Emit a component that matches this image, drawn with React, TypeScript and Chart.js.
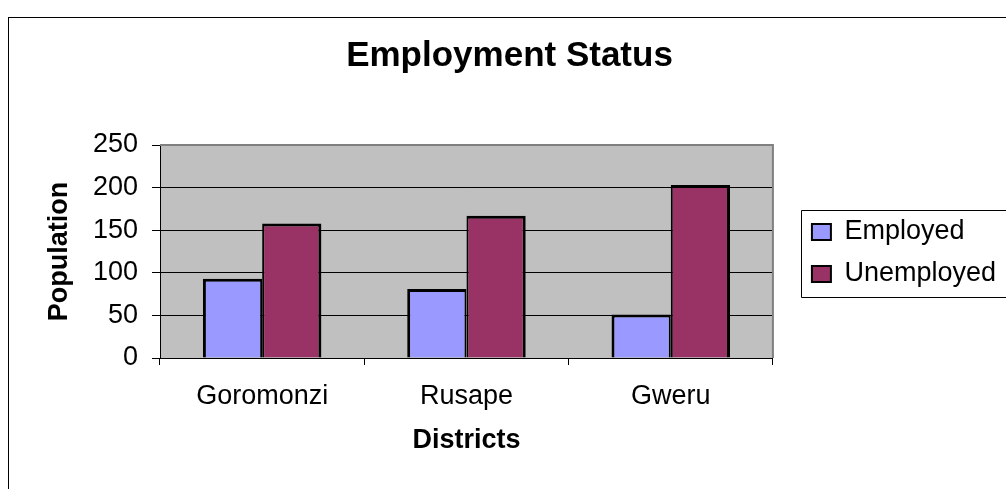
import { useEffect, useRef } from "react";
import { Chart, registerables } from "chart.js";

Chart.register(...registerables);

const categories = ["Goromonzi", "Rusape", "Gweru"];
const seriesNames = ["Employed", "Unemployed"];
const employed = [93, 81, 51];
const unemployed = [158, 167, 203];
const yTickValues = [0, 50, 100, 150, 200, 250];

const FONT = "'Liberation Sans', Arial, Helvetica, sans-serif";

export default function App() {
  const ref = useRef<HTMLCanvasElement>(null);

  useEffect(() => {
    if (!ref.current) return;

    const decorations = {
      id: "decorations",
      beforeDraw(chart: any) {
        const { ctx, chartArea: a } = chart;
        ctx.save();
        ctx.fillStyle = "#ffffff";
        ctx.fillRect(0, 0, chart.width, chart.height);
        ctx.strokeStyle = "#000000";
        ctx.lineWidth = 1;
        ctx.strokeRect(8.5, 17.5, chart.width + 40, chart.height + 40);
        ctx.fillStyle = "#c0c0c0";
        ctx.fillRect(a.left, a.top, a.right - a.left, a.bottom - a.top);
        ctx.restore();
      },
      beforeDatasetsDraw(chart: any) {
        const { ctx, chartArea: a } = chart;
        ctx.save();
        ctx.strokeStyle = "#808080";
        ctx.lineWidth = 2;
        ctx.beginPath();
        ctx.moveTo(a.left, a.top);
        ctx.lineTo(a.right, a.top);
        ctx.lineTo(a.right, a.bottom);
        ctx.stroke();
        ctx.restore();
      },
      afterDraw(chart: any) {
        const lg = chart.legend;
        if (!lg || !lg.legendHitBoxes || !lg.legendHitBoxes.length) return;
        const hb = lg.legendHitBoxes;
        const first = hb[0];
        const last = hb[hb.length - 1];
        const left = Math.round(first.left - 11) + 0.5;
        const top = Math.round(first.top - 9) + 0.5;
        const bottom = Math.round(last.top + last.height + 9) + 0.5;
        const { ctx } = chart;
        ctx.save();
        ctx.strokeStyle = "#000000";
        ctx.lineWidth = 1;
        ctx.beginPath();
        ctx.moveTo(chart.width + 10, top);
        ctx.lineTo(left, top);
        ctx.lineTo(left, bottom);
        ctx.lineTo(chart.width + 10, bottom);
        ctx.stroke();
        ctx.restore();
      },
    };

    const chart = new Chart(ref.current, {
      type: "bar",
      data: {
        labels: categories,
        datasets: [
          {
            label: seriesNames[0],
            data: employed,
            backgroundColor: "#9999ff",
            borderColor: "#000000",
            borderWidth: { left: 3, top: 3, right: 2, bottom: 0 },
            borderSkipped: false,
            categoryPercentage: 0.58,
            barPercentage: 1,
          },
          {
            label: seriesNames[1],
            data: unemployed,
            backgroundColor: "#993366",
            borderColor: "#000000",
            borderWidth: { left: 2, top: 3, right: 3, bottom: 0 },
            borderSkipped: false,
            categoryPercentage: 0.58,
            barPercentage: 1,
          },
        ],
      },
      options: {
        responsive: false,
        animation: false,
        devicePixelRatio: 1,
        layout: { padding: { left: 13, top: 17, right: 0, bottom: 0 } },
        plugins: {
          title: {
            display: true,
            text: "Employment Status",
            color: "#000000",
            font: { family: FONT, size: 35, weight: "bold" },
            padding: { top: 18, bottom: 68 },
          },
          legend: {
            display: true,
            position: "right",
            align: "center",
            maxWidth: 260,
            labels: {
              color: "#000000",
              font: { family: FONT, size: 27 },
              boxWidth: 19,
              boxHeight: 16,
              padding: 15,
            },
          },
          tooltip: { enabled: false },
        },
        scales: {
          x: {
            type: "category",
            offset: true,
            afterFit: (scale: any) => {
              scale.height = 131;
            },
            grid: {
              offset: true,
              drawOnChartArea: false,
              drawTicks: true,
              tickLength: 7,
              color: "#000000",
              lineWidth: 1,
            },
            border: { display: true, color: "#000000", width: 1 },
            ticks: {
              color: "#000000",
              font: { family: FONT, size: 27 },
              padding: 15,
              maxRotation: 0,
            },
            title: {
              display: true,
              text: "Districts",
              color: "#000000",
              font: { family: FONT, size: 27, weight: "bold" },
              padding: { top: 10, bottom: 32 },
            },
          },
          y: {
            type: "linear",
            min: 0,
            max: 250,
            afterBuildTicks: (scale: any) => {
              scale.ticks = yTickValues.map((v) => ({ value: v }));
            },
            afterFit: (scale: any) => {
              scale.width = 147;
            },
            grid: {
              color: "#000000",
              lineWidth: 1,
              drawTicks: true,
              tickLength: 8,
            },
            border: { display: true, color: "#000000", width: 1 },
            ticks: {
              color: "#000000",
              font: { family: FONT, size: 27 },
              padding: 14,
            },
            title: {
              display: true,
              text: "Population",
              color: "#000000",
              font: { family: FONT, size: 27, weight: "bold" },
              padding: { top: 30, bottom: 6 },
            },
          },
          y2: {
            type: "linear",
            position: "right",
            display: true,
            grid: { display: false, drawTicks: false },
            border: { display: false },
            ticks: { display: false },
            afterFit: (scale: any) => {
              scale.width = 24;
            },
          },
        },
      },
      plugins: [decorations],
    } as any);

    return () => chart.destroy();
  }, []);

  return (
    <canvas
      ref={ref}
      width={1006}
      height={489}
      style={{ position: "absolute", left: 0, top: 0, display: "block" }}
    />
  );
}
